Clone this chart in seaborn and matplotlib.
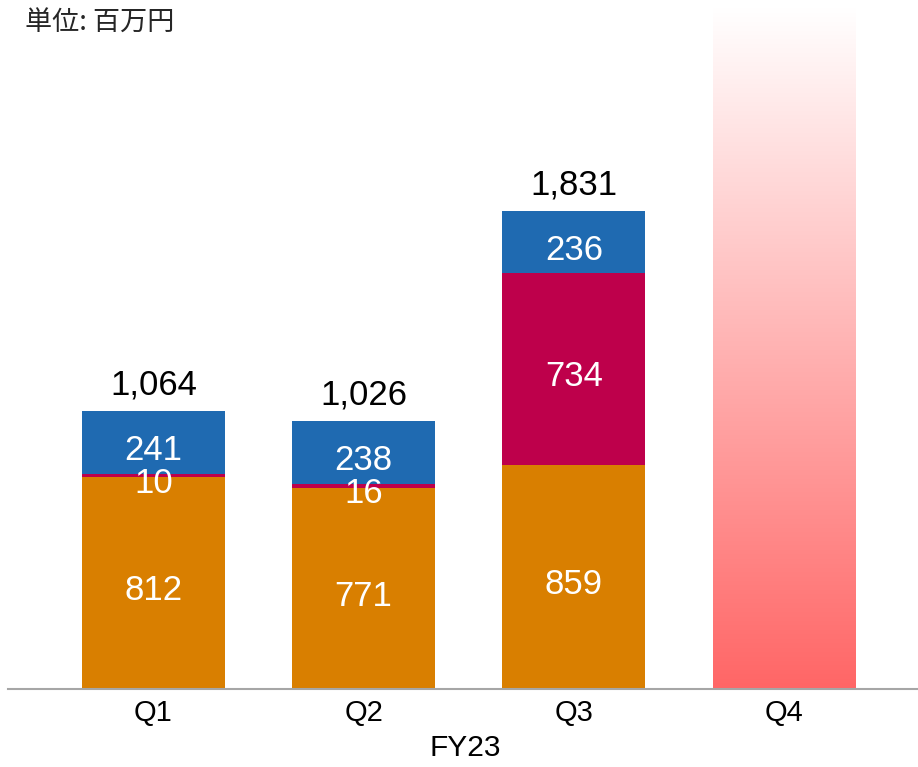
import matplotlib
matplotlib.use("Agg")
import matplotlib.pyplot as plt
from matplotlib.colors import LinearSegmentedColormap
import seaborn as sns
import pandas as pd
import numpy as np

# data (百万円)
quarters = ['Q1', 'Q2', 'Q3', 'Q4']
orange_vals = [812, 771, 859, 0]
red_vals = [10, 16, 734, 0]
blue_vals = [241, 238, 236, 0]
totals = [1064, 1026, 1831, None]
q4_forecast = 2612  # placeholder band for the coming quarter

c_orange = '#D97F00'
c_red = '#BE004B'
c_blue = '#1F6AB1'

sns.set_theme(style="white")
plt.rcParams['font.family'] = ['Liberation Sans', 'DejaVu Sans']

df = pd.DataFrame({'Quarter': quarters, 'orange': orange_vals,
                   'red': red_vals, 'blue': blue_vals})
df['cum_red'] = df['orange'] + df['red']
df['cum_blue'] = df['cum_red'] + df['blue']
df['forecast'] = [0, 0, 0, q4_forecast]

fig = plt.figure(figsize=(9.18, 7.67), dpi=100)
ax = fig.add_axes([8 / 918, 78 / 767, 910 / 918, 689 / 767])

W = 0.68
# stacked bars: draw cumulative heights, top layer first
for col, c in [('cum_blue', c_blue), ('cum_red', c_red), ('orange', c_orange)]:
    sns.barplot(data=df, x='Quarter', y=col, color=c, saturation=1,
                width=W, errorbar=None, linewidth=0, ax=ax)
n_before = len(ax.patches)
sns.barplot(data=df, x='Quarter', y='forecast', color='white', saturation=1,
            width=W, errorbar=None, linewidth=0, ax=ax)
q4_patch = ax.patches[n_before + 3]
q4_patch.set_facecolor('none')
q4_patch.set_edgecolor('none')

# gradient fill for Q4
cmap = LinearSegmentedColormap.from_list('fc', ['#FF6666', '#FFFFFF'])
grad = np.linspace(0, 1, 256).reshape(-1, 1)
x0 = q4_patch.get_x()
im = ax.imshow(grad, cmap=cmap, aspect='auto', origin='lower',
               extent=[x0, x0 + q4_patch.get_width(), 0, q4_forecast], zorder=2)
im.set_clip_path(q4_patch)

ax.set_xlim(-0.692, 3.637)
ax.set_ylim(0, 689 / 0.2611)

# segment labels
for i in range(3):
    segs = [(0, orange_vals[i]), (orange_vals[i], red_vals[i]),
            (orange_vals[i] + red_vals[i], blue_vals[i])]
    for base, v in segs:
        ax.annotate(f'{v:,}', (i, base + v / 2), xytext=(0, -12.5),
                    textcoords='offset points', ha='center', va='baseline',
                    color='white', fontsize=25, zorder=5)
    ax.annotate(f'{totals[i]:,}', (i, df['cum_blue'][i]), xytext=(0, 12.5),
                textcoords='offset points', ha='center', va='baseline',
                color='black', fontsize=25, zorder=5)

sns.despine(ax=ax, left=True, top=True, right=True)
ax.spines['bottom'].set_color('#A6A6A6')
ax.spines['bottom'].set_linewidth(1.5)
ax.set_yticks([])
ax.set_ylabel('')
ax.tick_params(axis='x', length=0, pad=7, labelsize=21, colors='black')
ax.set_xlabel('FY23', fontsize=21.5, color='black')
ax.xaxis.set_label_coords(0.503, -0.066)
ax.xaxis.label.set_va('top')

fig.text(25 / 918, 1 - 23 / 767, '単位: 百万円', fontsize=19.5, va='center',
         ha='left', family=['Noto Sans CJK JP', 'DejaVu Sans'])

fig.savefig('out.png', dpi=100)
